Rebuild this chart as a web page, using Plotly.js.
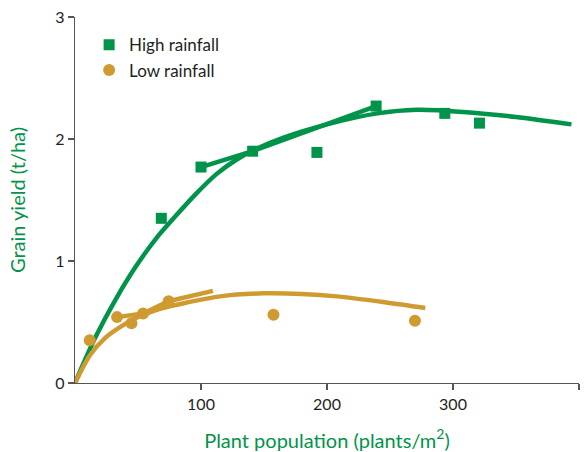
<!DOCTYPE html>
<html>
<head>
<meta charset="utf-8">
<script src="https://cdn.plot.ly/plotly-3.0.1.min.js"></script>
<style>html,body{margin:0;padding:0;background:#fff;}#chart{width:586px;height:452px;}</style>
</head>
<body>
<div id="chart"></div>
<script>
// Observed data points
var highX = [68.5, 100, 141, 192, 239, 293.5, 321];
var highY = [1.35, 1.77, 1.90, 1.89, 2.27, 2.21, 2.13];
var lowX = [11.7, 33.4, 44.8, 54, 74.3, 157.5, 269.8];
var lowY = [0.35, 0.54, 0.49, 0.57, 0.67, 0.56, 0.51];

// Fitted response curves
var highFitX = [0, 16, 32, 48, 64, 80, 96, 112, 128, 144, 165, 200, 240, 271, 311, 350, 394];
var highFitY = [0, 0.37, 0.68, 0.95, 1.18, 1.37, 1.55, 1.71, 1.83, 1.92, 2.01, 2.12, 2.21, 2.24, 2.22, 2.18, 2.12];
var lowFitX = [0, 12, 24, 36, 48, 62, 76, 89, 115, 150, 180, 208, 247, 278];
var lowFitY = [0, 0.23, 0.37, 0.46, 0.53, 0.59, 0.63, 0.66, 0.71, 0.735, 0.73, 0.71, 0.66, 0.615];

// Short connecting segments
var highSegX = [100, 141, 239];
var highSegY = [1.77, 1.90, 2.27];
var lowSegX = [33.4, 54, 74.3, 109.5];
var lowSegY = [0.54, 0.57, 0.67, 0.755];

var green = '#00934a';
var gold = '#cf9b30';
var FONT = 'Lato, "Open Sans", sans-serif';

var traces = [
  {x: highFitX, y: highFitY, mode: 'lines', line: {color: green, width: 4.5, shape: 'spline', smoothing: 0.8}, showlegend: false, hoverinfo: 'skip'},
  {x: lowFitX, y: lowFitY, mode: 'lines', line: {color: gold, width: 4.5, shape: 'spline', smoothing: 0.8}, showlegend: false, hoverinfo: 'skip'},
  {x: highSegX, y: highSegY, mode: 'lines', line: {color: green, width: 4.5}, showlegend: false, hoverinfo: 'skip'},
  {x: lowSegX, y: lowSegY, mode: 'lines', line: {color: gold, width: 4.5}, showlegend: false, hoverinfo: 'skip'},
  {x: highX, y: highY, mode: 'markers', name: 'High rainfall', marker: {symbol: 'square', size: 11, color: green}},
  {x: lowX, y: lowY, mode: 'markers', name: 'Low rainfall', marker: {symbol: 'circle', size: 12, color: gold}}
];

var layout = {
  width: 586, height: 452,
  margin: {l: 74.5, r: 6.7, t: 16.7, b: 69.3},
  paper_bgcolor: '#fff', plot_bgcolor: '#fff',
  font: {family: FONT, size: 16, color: '#231f20'},
  showlegend: true,
  legend: {x: 0.028, y: 0.972, xanchor: 'left', yanchor: 'top', bgcolor: 'rgba(0,0,0,0)',
           font: {family: FONT, size: 17, color: '#231f20'}, tracegroupgap: 0},
  xaxis: {
    range: [0, 400], tickvals: [100, 200, 300, 400], ticktext: ['100', '200', '300', '400'],
    showline: true, linecolor: '#555', linewidth: 1.3, ticks: 'outside', ticklen: 6, tickcolor: '#555', tickwidth: 1.3,
    showgrid: false, zeroline: false, automargin: false,
    tickfont: {family: FONT, size: 16, color: '#231f20'},
    title: {text: 'Plant population (plants/m<sup>2</sup>)', font: {family: FONT, size: 20, color: green}, standoff: 22}
  },
  yaxis: {
    range: [0, 3], tickvals: [0, 1, 2, 3], ticktext: ['0', '1', '2', '3'],
    showline: true, linecolor: '#555', linewidth: 1.3, ticks: 'outside', ticklen: 6, tickcolor: '#555', tickwidth: 1.3,
    showgrid: false, zeroline: false, automargin: false,
    tickfont: {family: FONT, size: 16, color: '#231f20'},
    title: {text: 'Grain yield (t/ha)', font: {family: FONT, size: 20, color: green}, standoff: 24}
  }
};

Plotly.newPlot('chart', traces, layout, {displayModeBar: false, staticPlot: true});
</script>
</body>
</html>
